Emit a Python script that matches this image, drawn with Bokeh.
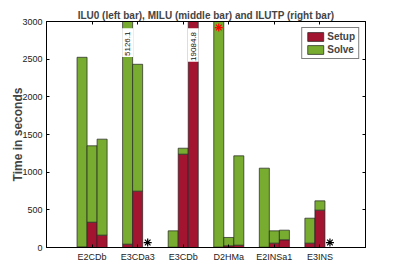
import numpy as np
from bokeh.plotting import figure
from bokeh.models import (ColumnDataSource, FixedTicker, LinearAxis, Legend,
                          LegendItem, Range1d, CustomJSTickFormatter)
from bokeh.embed import file_html
from bokeh.resources import INLINE
from bokeh.core.properties import value

# ---------------- data ----------------
categories = ["E2CDb", "E3CDa3", "E3CDb", "D2HMa", "E2INSa1", "E3INS"]
ilu0_setup = [8, 44, 4, 5, 4, 58]
ilu0_solve = [2517, 5082.1, 217, 3195, 1049, 331]
milu_setup = [336, 748, 1239, 22, 58, 496]
milu_solve = [1014, 1684, 79, 111, 163, 123]
ilutp_setup = [164, 0, 19084.8, 31, 102, 0]
ilutp_solve = [1274, 0, 0, 1186, 128, 0]
ilutp_failed = [False, True, False, False, False, True]   # black asterisk
ilu0_flagged = [False, False, False, True, False, False]  # red asterisk
y_ticks = [0, 500, 1000, 1500, 2000, 2500, 3000]
y_max = 3000

RED = "#A2142F"
GREEN = "#77AC30"
FONT = "Liberation Sans"
BW = 0.22  # bar width (x units)

pos = np.arange(1, len(categories) + 1)

p = figure(frame_width=319, frame_height=226, output_backend="svg",
           toolbar_location=None,
           x_range=Range1d(0, 7), y_range=Range1d(0, y_max),
           min_border_left=46, min_border_right=30, min_border_top=21,
           min_border_bottom=12)
p.title.text = "ILU0 (left bar), MILU (middle bar) and ILUTP (right bar)"
p.title.text_font = FONT
p.title.text_font_size = "10px"
p.title.text_font_style = "bold"
p.title.align = "center"
p.title.standoff = 1
p.title.offset = 0

p.grid.visible = False
p.outline_line_color = "black"
p.outline_line_width = 1
p.background_fill_color = "white"
p.border_fill_color = "white"

groups = [(-BW, ilu0_setup, ilu0_solve), (0.0, milu_setup, milu_solve),
          (BW, ilutp_setup, ilutp_solve)]
legend_renderers = None
for off, st, sv in groups:
    src = ColumnDataSource(dict(x=pos + off, setup=st, solve=sv))
    rs = p.vbar_stack(["setup", "solve"], x="x", width=BW, source=src,
                      color=[RED, GREEN], line_color="#222222", line_width=0.7)
    if legend_renderers is None:
        legend_renderers = rs

# broken bars (value beyond the axis) with value label
totals = [(pos[i] - BW, ilu0_setup[i] + ilu0_solve[i]) for i in range(len(pos)) if not ilu0_flagged[i]]
totals += [(pos[i], milu_setup[i] + milu_solve[i]) for i in range(len(pos))]
totals += [(pos[i] + BW, ilutp_setup[i] + ilutp_solve[i]) for i in range(len(pos))]
big = [(x, t) for x, t in totals if t > y_max]
bx = [x for x, t in big]
btxt = ["%.1f" % t for x, t in big]
gap_top = 2910
gap_bottom = [2530 if len(s) <= 6 else 2465 for s in btxt]
p.quad(left=[x - BW / 2 - 0.01 for x in bx], right=[x + BW / 2 + 0.01 for x in bx],
       bottom=gap_bottom, top=[gap_top] * len(bx), fill_color="white", line_color=None)
p.text(x=bx, y=[g + 12 for g in gap_bottom], text=btxt, angle=np.pi / 2,
       text_align="left", text_baseline="middle", text_font=value(FONT),
       text_font_size="8px", text_color="#111111")

# markers
fx = [pos[i] + BW for i in range(len(pos)) if ilutp_failed[i]]
p.scatter(x=fx, y=[66] * len(fx), marker="asterisk", size=8, line_color="black",
          line_width=1.2)
rx = [pos[i] - BW for i in range(len(pos)) if ilu0_flagged[i]]
p.scatter(x=rx, y=[2920] * len(rx), marker="asterisk", size=8, line_color="red",
          line_width=1.2)

# axes
def style_axis(ax, labels=True):
    ax.major_tick_in = 3
    ax.major_tick_out = 0
    ax.minor_tick_in = 0
    ax.minor_tick_out = 0
    ax.axis_line_color = "black"
    ax.major_tick_line_color = "black"
    ax.major_label_text_font = FONT
    ax.major_label_text_font_size = "9px"
    ax.major_label_text_color = "#222222"
    ax.major_label_standoff = 4 if labels else 0
    if not labels:
        ax.formatter = CustomJSTickFormatter(code="return ''")

xt = FixedTicker(ticks=list(pos))
yt = FixedTicker(ticks=y_ticks)
p.xaxis.ticker = xt
p.xaxis.major_label_overrides = {int(i): c for i, c in zip(pos, categories)}
p.yaxis.ticker = yt
style_axis(p.xaxis[0])
style_axis(p.yaxis[0])
p.yaxis.axis_label = "Time in seconds"
p.yaxis.axis_label_text_font = FONT
p.yaxis.axis_label_text_font_size = "12px"
p.yaxis.axis_label_text_font_style = "bold"
p.yaxis.axis_label_standoff = -6

top_ax = LinearAxis(ticker=xt)
style_axis(top_ax, labels=False)
p.add_layout(top_ax, "above")
right_ax = LinearAxis(ticker=yt)
style_axis(right_ax, labels=False)
p.add_layout(right_ax, "right")

legend = Legend(items=[LegendItem(label="Setup", renderers=[legend_renderers[0]]),
                       LegendItem(label="Solve", renderers=[legend_renderers[1]])],
                location="top_right")
legend.margin = 6
legend.padding = 3
legend.spacing = 2
legend.label_text_font = FONT
legend.label_text_font_size = "10px"
legend.label_text_font_style = "bold"
legend.label_standoff = 2
legend.label_width = 10
legend.glyph_width = 20
legend.glyph_height = 11
legend.label_height = 11
legend.border_line_color = "black"
legend.border_line_width = 1
legend.background_fill_alpha = 1
p.add_layout(legend, "center")

open("out.html", "w").write(file_html(p, INLINE))
